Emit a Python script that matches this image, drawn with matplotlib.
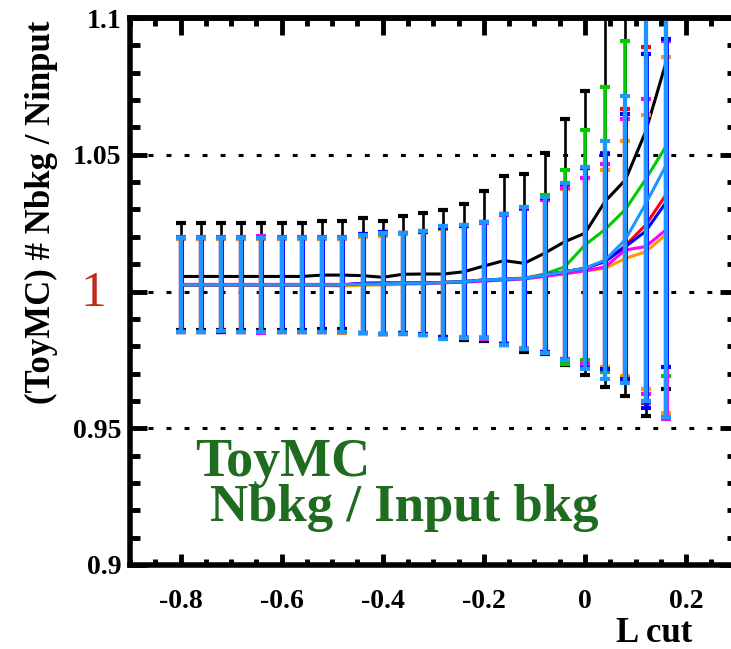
import matplotlib
matplotlib.use("Agg")
import matplotlib.pyplot as plt
from matplotlib.ticker import MultipleLocator, FixedLocator
import matplotlib.transforms as mtrans

plt.rcParams['font.family'] = ['Liberation Serif', 'DejaVu Serif']
plt.rcParams['font.weight'] = 'bold'

# ---------------- data ----------------
lcut = [-0.80, -0.76, -0.72, -0.68, -0.64, -0.60, -0.56, -0.52, -0.48, -0.44,
        -0.40, -0.36, -0.32, -0.28, -0.24, -0.20, -0.16, -0.12, -0.08, -0.04,
        0.00, 0.04, 0.08, 0.12, 0.16]

black_y = [1.0055, 1.0055, 1.0055, 1.0055, 1.0055, 1.0055, 1.0055, 1.0060, 1.0060, 1.0058,
           1.0052, 1.0063, 1.0064, 1.0064, 1.0072, 1.0093, 1.0113, 1.0103, 1.0140, 1.0182,
           1.0213, 1.0330, 1.0408, 1.0584, 1.0835]
black_e = [0.0194, 0.0194, 0.0194, 0.0196, 0.0194, 0.0197, 0.0197, 0.0196, 0.0197, 0.0210,
           0.0207, 0.0213, 0.0224, 0.0234, 0.0248, 0.0274, 0.0310, 0.0325, 0.0368, 0.0450,
           0.0520, 0.0680, 0.0790, 0.1040, 0.1190]

green_y = [1.0025, 1.0025, 1.0025, 1.0025, 1.0025, 1.0025, 1.0025, 1.0025, 1.0025, 1.0027,
           1.0028, 1.0030, 1.0030, 1.0033, 1.0036, 1.0042, 1.0045, 1.0048, 1.0064, 1.0090,
           1.0170, 1.0227, 1.0300, 1.0410, 1.0530]
green_e = [0.0172, 0.0172, 0.0170, 0.0172, 0.0172, 0.0172, 0.0172, 0.0172, 0.0172, 0.0180,
           0.0185, 0.0185, 0.0190, 0.0205, 0.0207, 0.0213, 0.0240, 0.0260, 0.0290, 0.0354,
           0.0420, 0.0520, 0.0615, 0.0812, 0.0840]

red_y = [1.0024, 1.0024, 1.0024, 1.0024, 1.0024, 1.0024, 1.0024, 1.0024, 1.0024, 1.0030,
         1.0031, 1.0031, 1.0031, 1.0033, 1.0036, 1.0042, 1.0045, 1.0048, 1.0060, 1.0072,
         1.0085, 1.0110, 1.0168, 1.0243, 1.0353]
red_e = [0.0172, 0.0172, 0.0172, 0.0172, 0.0172, 0.0172, 0.0172, 0.0172, 0.0172, 0.0180,
         0.0186, 0.0183, 0.0188, 0.0200, 0.0205, 0.0212, 0.0238, 0.0258, 0.0282, 0.0322,
         0.0365, 0.0395, 0.0500, 0.0650, 0.0800]

blue_y = [1.0024, 1.0024, 1.0024, 1.0024, 1.0024, 1.0024, 1.0024, 1.0024, 1.0024, 1.0030,
          1.0031, 1.0031, 1.0031, 1.0033, 1.0036, 1.0042, 1.0045, 1.0048, 1.0060, 1.0072,
          1.0085, 1.0110, 1.0164, 1.0220, 1.0325]
blue_e = [0.0172, 0.0172, 0.0172, 0.0172, 0.0172, 0.0172, 0.0172, 0.0172, 0.0172, 0.0181,
          0.0187, 0.0183, 0.0188, 0.0200, 0.0205, 0.0212, 0.0238, 0.0258, 0.0282, 0.0322,
          0.0365, 0.0393, 0.0485, 0.0647, 0.0600]

magenta_y = [1.0026, 1.0026, 1.0026, 1.0026, 1.0026, 1.0026, 1.0026, 1.0026, 1.0026, 1.0027,
             1.0028, 1.0029, 1.0030, 1.0032, 1.0034, 1.0038, 1.0042, 1.0046, 1.0055, 1.0065,
             1.0076, 1.0090, 1.0152, 1.0164, 1.0225]
magenta_e = [0.0174, 0.0174, 0.0174, 0.0174, 0.0176, 0.0174, 0.0174, 0.0174, 0.0174, 0.0178,
             0.0183, 0.0185, 0.0190, 0.0200, 0.0205, 0.0212, 0.0236, 0.0255, 0.0280, 0.0312,
             0.0340, 0.0376, 0.0480, 0.0540, 0.0690]

orange_y = [1.0022, 1.0022, 1.0022, 1.0022, 1.0022, 1.0022, 1.0022, 1.0022, 1.0020, 1.0023,
            1.0024, 1.0026, 1.0028, 1.0032, 1.0036, 1.0042, 1.0045, 1.0050, 1.0060, 1.0065,
            1.0075, 1.0085, 1.0121, 1.0145, 1.0207]
orange_e = [0.0171, 0.0171, 0.0171, 0.0171, 0.0171, 0.0171, 0.0171, 0.0171, 0.0171, 0.0176,
            0.0180, 0.0183, 0.0188, 0.0198, 0.0203, 0.0210, 0.0235, 0.0255, 0.0282, 0.0310,
            0.0340, 0.0360, 0.0430, 0.0500, 0.0650]

sky_y = [1.0025, 1.0025, 1.0025, 1.0025, 1.0025, 1.0025, 1.0025, 1.0025, 1.0025, 1.0027,
         1.0028, 1.0030, 1.0030, 1.0033, 1.0036, 1.0042, 1.0045, 1.0048, 1.0060, 1.0072,
         1.0085, 1.0115, 1.0190, 1.0320, 1.0460]
sky_e = [0.0172, 0.0172, 0.0170, 0.0172, 0.0172, 0.0172, 0.0172, 0.0172, 0.0172, 0.0180,
         0.0185, 0.0185, 0.0190, 0.0205, 0.0207, 0.0213, 0.0240, 0.0260, 0.0285, 0.0324,
         0.0370, 0.0436, 0.0525, 0.0720, 0.0920]

series = [
    (black_y, black_e, '#000000', 1.9),
    (green_y, green_e, '#00cc00', 2.6),
    (red_y, red_e, '#ff0000', 3.0),
    (orange_y, orange_e, '#ff9900', 3.0),
    (magenta_y, magenta_e, '#ff00ff', 3.7),
    (blue_y, blue_e, '#0000ff', 3.5),
    (sky_y, sky_e, '#1e96ff', 3.1),
]

y_major = [0.90, 0.95, 1.00, 1.05, 1.10]
y_major_labels = ['0.9', '0.95', '', '1.05', '1.1']
x_major = [-0.8, -0.6, -0.4, -0.2, 0.0, 0.2]
x_major_labels = ['-0.8', '-0.6', '-0.4', '-0.2', '0', '0.2']
grid_levels = [0.95, 1.00, 1.05]

# ---------------- figure ----------------
W, H = 731, 649
fig = plt.figure(figsize=(W / 100, H / 100), dpi=100)
ax = fig.add_axes([130 / W, 1 - 565 / H, (736.6 - 130) / W, (565 - 18) / H])
ax.set_xlim(-0.9, 0.3)
ax.set_ylim(0.9, 1.1)

for g in grid_levels:
    ax.axhline(g, color='black', lw=2.2, linestyle=(0, (1.6, 4.3)), zorder=1)

for k, (yv, ev, col, elw) in enumerate(series):
    ax.errorbar(lcut, yv, yerr=ev, color=col, lw=2.2, elinewidth=elw,
                capsize=3.5, capthick=3.0, zorder=3 + k)

for sp in ax.spines.values():
    sp.set_linewidth(4)
    sp.set_zorder(20)

ax.xaxis.set_major_locator(FixedLocator(x_major))
ax.xaxis.set_minor_locator(MultipleLocator(0.05))
ax.yaxis.set_major_locator(FixedLocator(y_major))
ax.yaxis.set_minor_locator(MultipleLocator(0.01))
ax.tick_params(which='both', direction='in', top=False, right=True, width=3.5,
               color='black')
ax.tick_params(axis='y', which='major', length=12, pad=6, labelsize=20)
ax.tick_params(axis='y', which='minor', length=7)
ax.tick_params(axis='x', which='major', length=8, pad=17, labelsize=20)
ax.tick_params(axis='x', which='minor', length=4)

# top ticks (longer, as in the reference)
sec = ax.secondary_xaxis('top')
sec.xaxis.set_major_locator(FixedLocator(x_major))
sec.xaxis.set_minor_locator(MultipleLocator(0.05))
sec.tick_params(which='both', direction='in', width=3.5, labeltop=False)
sec.tick_params(which='major', length=12)
sec.tick_params(which='minor', length=6)
sec.spines['top'].set_linewidth(4)

ax.set_xticklabels(x_major_labels, fontweight='bold')
ax.set_yticklabels(y_major_labels, fontweight='bold')

# the big red "1" at y = 1
ytr = mtrans.blended_transform_factory(fig.transFigure, ax.transData)
ax.text(93 / W, 0.9948, '1', transform=ytr, fontsize=37, color='#c42a1a',
        fontweight='normal', ha='center', va='baseline')

ax.set_ylabel('(ToyMC) # Nbkg / Ninput', fontsize=25, fontweight='bold')
ax.yaxis.set_label_coords(-0.119, 0.645)
fig.text(692 / W, 1 - 642 / H, 'L cut', fontsize=25, fontweight='bold',
         ha='right', va='baseline')

ax.text(-0.771, 0.9325, 'ToyMC', fontsize=39, fontweight='bold', color='#1f6b1f',
        ha='left', va='baseline', zorder=30)
ax.text(-0.741, 0.9162, 'Nbkg / Input bkg', fontsize=38, fontweight='bold',
        color='#1f6b1f', ha='left', va='baseline', zorder=30)

fig.savefig('out.png', dpi=100)
